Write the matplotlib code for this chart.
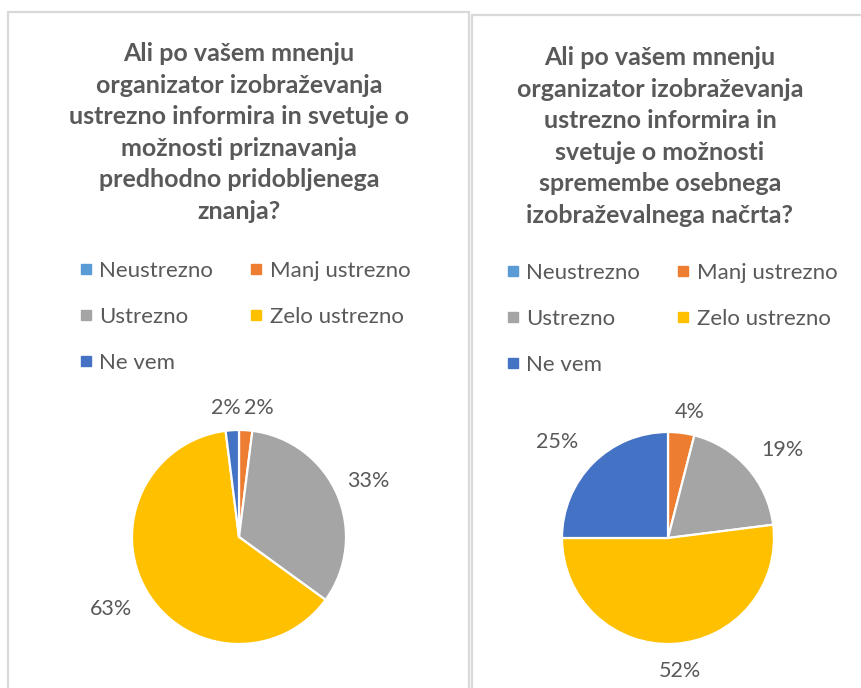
import numpy as np
import matplotlib
matplotlib.use("Agg")
import matplotlib.pyplot as plt
from matplotlib.patches import Rectangle
from matplotlib.lines import Line2D

# ---- data -------------------------------------------------------------
categories = ["Neustrezno", "Manj ustrezno", "Ustrezno", "Zelo ustrezno", "Ne vem"]
colors = ["#5B9BD5", "#ED7D31", "#A5A5A5", "#FFC000", "#4472C4"]

title_left = ("Ali po vašem mnenju\norganizator izobraževanja\n"
              "ustrezno informira in svetuje o\nmožnosti priznavanja\n"
              "predhodno pridobljenega\nznanja?")
title_right = ("Ali po vašem mnenju\norganizator izobraževanja\n"
               "ustrezno informira in\nsvetuje o možnosti\n"
               "spremembe osebnega\nizobraževalnega načrta?")

values_left = [0, 2, 33, 63, 2]
values_right = [0, 4, 19, 52, 25]

# ---- label placement (radius factor, dx, dy) per slice ------------------
label_pos_left = [(1.21, 0, 0), (1.21, 0.11, 0), (1.32, 0, 0),
                  (1.32, -0.06, 0), (1.21, -0.045, 0)]
label_pos_right = [(1.2, 0, 0), (1.2, 0.05, 0), (1.36, 0.055, -0.07),
                   (1.26, 0.03, 0), (1.38, -0.07, -0.07)]

W, H = 861, 688
TXT = "#595959"
FONT = "Lato"

plt.rcParams["font.family"] = [FONT, "DejaVu Sans"]

fig = plt.figure(figsize=(W / 100, H / 100), dpi=100)
fig.patch.set_facecolor("white")


def fx(x):
    return x / W


def fy(y):
    return 1 - y / H


# chart frames
for (x0, y0, x1, y1) in [(8, 12, 469, 720), (472, 15, 900, 720)]:
    fig.patches.append(Rectangle((fx(x0), fy(y1)), (x1 - x0) / W, (y1 - y0) / H,
                                 transform=fig.transFigure, fill=False,
                                 edgecolor="#D9D9D9", linewidth=1.6, zorder=0))


def draw_pie(values, cx, cy, R, label_pos):
    span = 1.7
    ax = fig.add_axes([fx(cx - span * R), fy(cy + span * R),
                       2 * span * R / W, 2 * span * R / H])
    wedges, _ = ax.pie(values, colors=colors, startangle=90, counterclock=False,
                       radius=1, wedgeprops=dict(edgecolor="white", linewidth=1.6))
    ax.set_xlim(-span, span)
    ax.set_ylim(-span, span)
    ax.set_aspect("equal")
    ax.axis("off")
    for w, v, (r, dx, dy) in zip(wedges, values, label_pos):
        if v == 0:
            continue
        th = np.deg2rad((w.theta1 + w.theta2) / 2)
        ax.text(r * np.cos(th) + dx, r * np.sin(th) + dy, f"{v}%",
                ha="center", va="center", fontsize=15.5, color=TXT)
    return ax


draw_pie(values_left, 239, 537, 107, label_pos_left)
draw_pie(values_right, 668, 538, 106, label_pos_right)

# titles
fig.text(fx(239), fy(42), title_left, ha="center", va="top", fontsize=18,
         fontweight="bold", color=TXT, linespacing=1.45)
fig.text(fx(660), fy(46), title_right, ha="center", va="top", fontsize=18,
         fontweight="bold", color=TXT, linespacing=1.45)

# legends (row-major order in two columns)
order = [0, 2, 4, 1, 3]
handles = [Line2D([], [], marker="s", linestyle="", markersize=7.5,
                  markerfacecolor=colors[i], markeredgecolor=colors[i]) for i in order]
labels = [categories[i] for i in order]
for (lx, ly) in [(79, 261), (506, 263)]:
    fig.legend(handles, labels, ncol=2, loc="upper left",
               bbox_to_anchor=(fx(lx), fy(ly)), frameon=False, fontsize=16,
               labelcolor=TXT, borderpad=0, borderaxespad=0, handlelength=0.6,
               handletextpad=0.3, labelspacing=1.17, columnspacing=1.65)

fig.savefig("out.png", dpi=100, facecolor="white")
